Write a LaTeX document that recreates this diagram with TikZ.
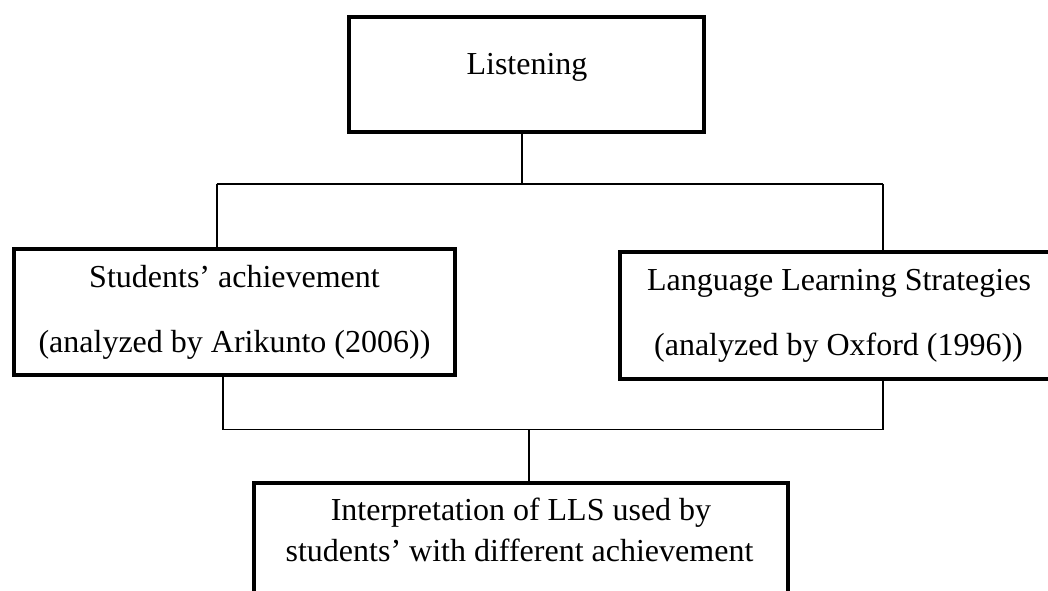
\documentclass[tikz,border=0pt]{standalone}
\usepackage{fontspec}
\setmainfont{Liberation Serif}
\begin{document}
\begin{tikzpicture}[x=0.75pt,y=-0.75pt,
  box/.style={draw=black, line width=3pt, inner sep=0pt, outer sep=0pt},
  txt/.style={font=\fontsize{24}{28}\selectfont, inner sep=0pt, outer sep=0pt, anchor=base},
  conn/.style={draw=black, line width=1.2pt}]
\useasboundingbox (0,0) rectangle (1048,591);
\begin{scope}
\clip (0,0) rectangle (1048,591);
% boxes
\node[box, minimum width=266.25pt, minimum height=86.25pt] (listen) at (526.5,74.5) {};
\node[box, minimum width=330.75pt, minimum height=94.5pt] (lbox) at (234.5,312) {};
\node[box, minimum width=330pt, minimum height=95.25pt] (rbox) at (840,315.5) {};
\node[box, minimum width=400.875pt, minimum height=110.25pt] (bbox) at (520.75,556.5) {};
% texts
\node[txt] (tlisten) at (527,75) {Listening};
\node[txt] (tl1) at (234.5,288) {Students’ achievement};
\node[txt] (tl2) at (234.5,352) {(analyzed by Arikunto (2006))};
\node[txt] (tr1) at (839,291) {Language Learning Strategies};
\node[txt] (tr2) at (838.5,355) {(analyzed by Oxford (1996))};
\node[txt] (tb1) at (521,520.7) {Interpretation of LLS used by};
\node[txt] (tb2) at (519.5,561.7) {students’ with different achievement};
% junction coordinates
\coordinate (jt) at (521.7,184);
\coordinate (jtl) at (216.7,184);
\coordinate (jtr) at (883,184);
\coordinate (jbl) at (222.7,429.3);
\coordinate (jbr) at (883,429.3);
\coordinate (jb) at (528.7,429.3);
% connectors
\draw[conn] (jt |- listen.south) -- (jt);
\draw[conn] (jtl) -- (jtr);
\draw[conn] (jtl) -- (jtl |- lbox.north);
\draw[conn] (jtr) -- (jtr |- rbox.north);
\draw[conn] (jbl |- lbox.south) -- (jbl) -- (jbr) -- (jbr |- rbox.south);
\draw[conn] (jb) -- (jb |- bbox.north);
\end{scope}
\end{tikzpicture}
\end{document}
